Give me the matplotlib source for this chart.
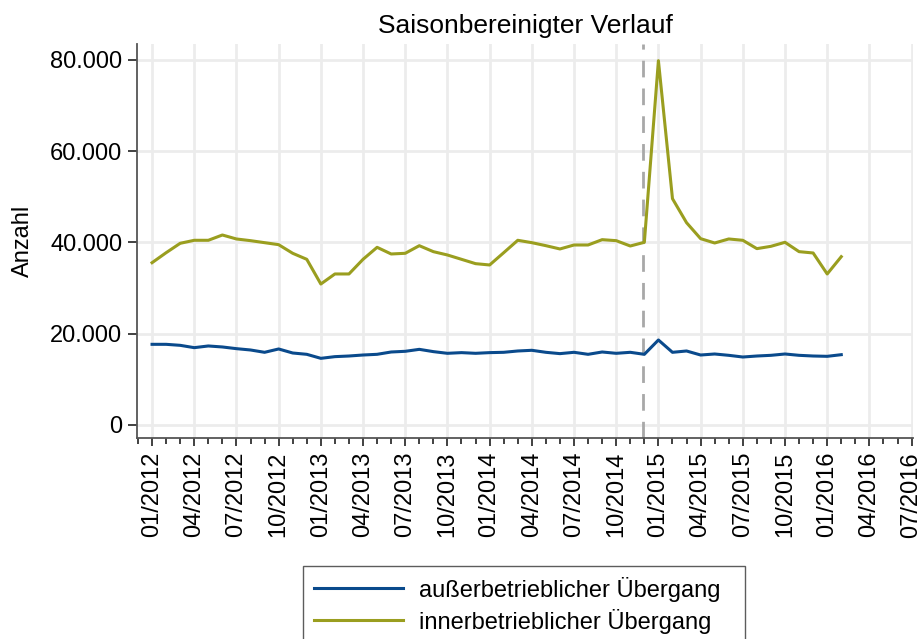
import matplotlib
matplotlib.use("Agg")
import matplotlib.pyplot as plt
from matplotlib.ticker import FixedLocator, FuncFormatter, MultipleLocator

plt.rcParams['font.family'] = ['Liberation Sans', 'DejaVu Sans']

# months since 01/2012
months = list(range(50))

ausser = [17680, 17680, 17460, 16950, 17320, 17100, 16730, 16440, 15930, 16660,
          15780, 15490, 14610, 14980, 15120, 15340, 15490, 16000, 16150, 16580,
          16080, 15710, 15860, 15710, 15860, 15930, 16220, 16370, 15930, 15640,
          15930, 15490, 16000, 15710, 15930, 15490, 18630, 15930, 16220, 15340,
          15560, 15270, 14900, 15120, 15270, 15560, 15270, 15120, 15050, 15410]

inner = [35570, 37760, 39820, 40480, 40480, 41640, 40770, 40400, 39960, 39520,
         37630, 36310, 30900, 33100, 33100, 36310, 38940, 37480, 37630, 39300,
         37990, 37260, 36310, 35360, 35070, 37760, 40480, 39960, 39300, 38580,
         39450, 39450, 40620, 40400, 39230, 40040, 79850, 49600, 44340, 40840,
         39890, 40770, 40480, 38650, 39160, 40040, 37990, 37700, 33100, 36890]

tick_labels = ['01/2012', '04/2012', '07/2012', '10/2012', '01/2013', '04/2013',
               '07/2013', '10/2013', '01/2014', '04/2014', '07/2014', '10/2014',
               '01/2015', '04/2015', '07/2015', '10/2015', '01/2016', '04/2016',
               '07/2016']
tick_pos = list(range(0, 55, 3))
break_month = 34.9

blue = '#0a4a8c'
olive = '#9a9e1f'

fig = plt.figure(figsize=(9.22, 6.39), dpi=100)
ax = fig.add_axes([137/922, 1-438/639, (913-137)/922, (438-44)/639])

ax.plot(months, ausser, color=blue, lw=2.2, label='außerbetrieblicher Übergang', zorder=3)
ax.plot(months, inner, color=olive, lw=2.2, label='innerbetrieblicher Übergang', zorder=3)
ax.axvline(break_month, color='#a8a8a8', lw=2, dashes=(6, 4), zorder=2)

ax.set_xlim(-1.07, 54.1)
ax.set_ylim(-2850, 83500)

ax.xaxis.set_major_locator(FixedLocator(tick_pos))
ax.set_xticklabels(tick_labels, rotation=90, fontsize=17)
ax.xaxis.set_minor_locator(MultipleLocator(1))
ax.set_yticks([0, 20000, 40000, 60000, 80000])
ax.yaxis.set_major_formatter(FuncFormatter(lambda v, p: f"{int(v):,}".replace(',', '.')))
ax.tick_params(axis='y', labelsize=17, length=6.5, width=1.3, color='#333333', pad=4)
ax.tick_params(axis='x', which='major', length=6, width=1.3, color='#333333', pad=4)
ax.tick_params(axis='x', which='minor', length=4, width=1.3, color='#333333')

ax.grid(True, which='major', color='#ececec', lw=2)
ax.set_axisbelow(True)
for s in ['top', 'right']:
    ax.spines[s].set_visible(False)
for s in ['left', 'bottom']:
    ax.spines[s].set_color('#555555')
    ax.spines[s].set_linewidth(1.3)

ax.set_ylabel('Anzahl', fontsize=17, labelpad=12)
ax.set_title('Saisonbereinigter Verlauf', fontsize=19, pad=8)

leg = ax.legend(loc='upper left', bbox_to_anchor=((303-137)/776, -128/394, 442/776, 0),
                mode='expand', borderaxespad=0,
                fontsize=17, frameon=True, fancybox=False, handlelength=3.8,
                handletextpad=0.65, borderpad=0.45, labelspacing=0.3)
leg.get_frame().set_edgecolor('#333333')
leg.get_frame().set_linewidth(1.0)
for l in leg.get_lines():
    l.set_linewidth(2.2)

fig.savefig('out.png', dpi=100)
